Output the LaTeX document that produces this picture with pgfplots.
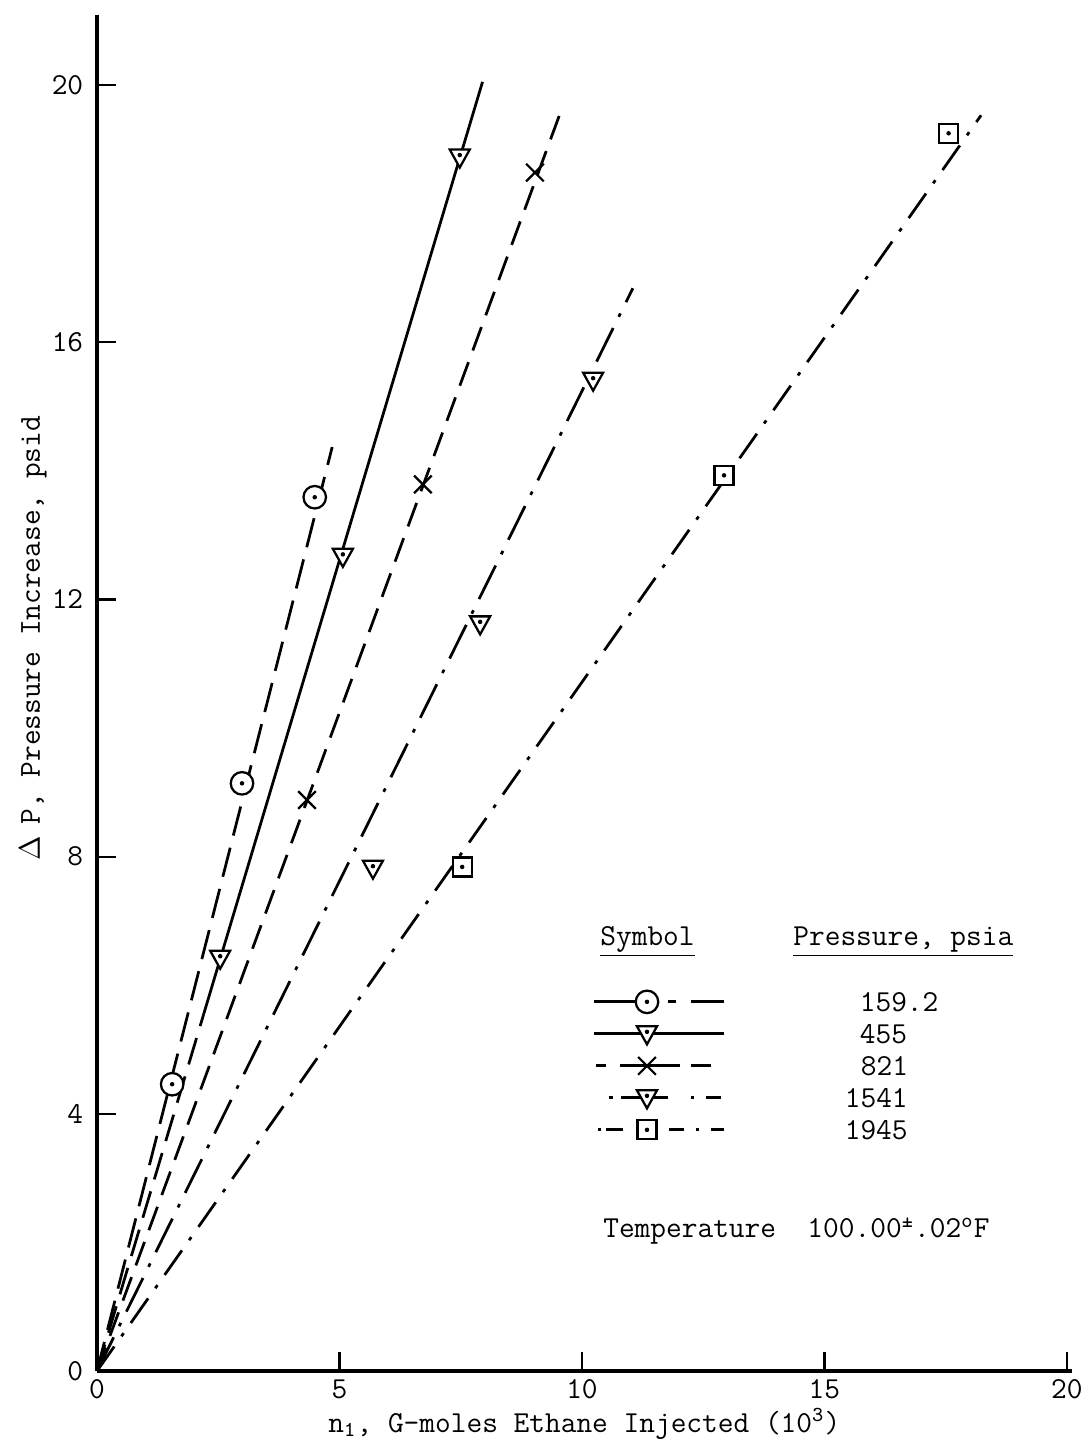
\documentclass[border=0pt]{standalone}
\usepackage{fontspec}
\usepackage{pgfplots}
\pgfplotsset{compat=1.18}
\renewcommand{\familydefault}{\ttdefault}

\pgfdeclareplotmark{odot}{%
  \pgfpathcircle{\pgfpointorigin}{\pgfplotmarksize}%
  \pgfusepathqfillstroke
  \begin{pgfscope}\pgfsetfillcolor{black}%
  \pgfpathcircle{\pgfpointorigin}{0.9pt}\pgfusepathqfill\end{pgfscope}}
\pgfdeclareplotmark{tdot}{%
  \pgfpathmoveto{\pgfqpoint{-\pgfplotmarksize}{0.75\pgfplotmarksize}}%
  \pgfpathlineto{\pgfqpoint{\pgfplotmarksize}{0.75\pgfplotmarksize}}%
  \pgfpathlineto{\pgfqpoint{0pt}{-1.05\pgfplotmarksize}}%
  \pgfpathclose
  \pgfusepathqfillstroke
  \begin{pgfscope}\pgfsetfillcolor{black}%
  \pgfpathcircle{\pgfqpoint{0pt}{0.2\pgfplotmarksize}}{0.9pt}\pgfusepathqfill\end{pgfscope}}
\pgfdeclareplotmark{sdot}{%
  \pgfpathrectangle{\pgfqpoint{-\pgfplotmarksize}{-\pgfplotmarksize}}{\pgfqpoint{2\pgfplotmarksize}{2\pgfplotmarksize}}%
  \pgfusepathqfillstroke
  \begin{pgfscope}\pgfsetfillcolor{black}%
  \pgfpathcircle{\pgfpointorigin}{0.9pt}\pgfusepathqfill\end{pgfscope}}

\pgfplotstableread{
x y
1.55 4.46
2.99 9.14
4.49 13.59
}\tA
\pgfplotstableread{
x y
2.54 6.42
5.07 12.67
7.48 18.88
}\tB
\pgfplotstableread{
x y
4.33 8.88
6.72 13.79
9.03 18.64
}\tC
\pgfplotstableread{
x y
5.69 7.82
7.90 11.62
10.23 15.41
}\tD
\pgfplotstableread{
x y
7.53 7.84
12.93 13.93
17.56 19.25
}\tE

\begin{document}
\begin{tikzpicture}[font=\fontsize{12.2}{14}\selectfont\ttfamily]
\begin{axis}[
  scale only axis, width=389.9pt, height=542.4pt,
  xmin=0, xmax=20.1, ymin=0, ymax=21.09,
  axis x line=bottom, axis y line=left,
  axis line style={line width=1.3pt, -},
  xtick={0,5,...,20}, ytick={0,4,...,20},
  tick align=inside, major tick length=7.5pt,
  tick style={line width=0.9pt, black},
  /pgf/number format/assume math mode=true,
  ticklabel style={font=\fontsize{12.2}{14}\selectfont\ttfamily},
  yticklabel style={xshift=-2pt},
  xlabel={n\textsubscript{1}, G-moles Ethane Injected (10\textsuperscript{3})},
  xlabel style={at={(axis description cs:0.5,0)}, anchor=base, yshift=-24.4pt, font=\fontsize{12.2}{14}\selectfont\ttfamily},
  ylabel={\makebox[6.4pt]{$\Delta$} P, Pressure Increase, psid},
  ylabel style={at={(axis description cs:0,0.542)}, anchor=center, rotate=0, yshift=25.6pt, font=\fontsize{12.2}{14}\selectfont\ttfamily},
  clip=false,
  legend image code/.code={%
    \draw[#1, mark=none] (0pt,0pt) -- (52pt,0pt);
    \draw[#1, solid] plot coordinates {(21pt,0pt)};},
  legend style={at={(axis cs:10.23,5.99)}, anchor=north west, draw=none, fill=none,
    inner sep=0pt, outer sep=0pt, row sep=0pt, column sep=0pt,
    nodes={inner sep=0pt, outer sep=0pt, text height=10.4pt, text depth=2.4pt, anchor=west},
    font=\fontsize{12.2}{14}\selectfont\ttfamily},
  legend cell align=left,
]
% lines
\addplot[forget plot, line width=1.1pt, dash pattern=on 12pt off 5pt] coordinates {(0,0) (4.85,14.37)};
\addplot[forget plot, line width=1.1pt, dash pattern=on 11pt off 5pt] coordinates {(0,0) (2.2,5.55)};
\addplot[forget plot, line width=1.1pt, solid] coordinates {(2.2,5.55) (7.95,20.05)};
\addplot[forget plot, line width=1.1pt, dash pattern=on 10pt off 5pt] coordinates {(0,0) (9.53,19.52)};
\addplot[forget plot, line width=1.1pt, dash pattern=on 15pt off 5pt on 1.5pt off 5pt] coordinates {(0,0) (11.05,16.84)};
\addplot[forget plot, line width=1.1pt, dash pattern=on 12pt off 5pt on 1.5pt off 5pt] coordinates {(0,0) (18.23,19.53)};
% marks
\addplot[forget plot, only marks, mark=odot, mark size=4.5pt, mark options={fill=white, line width=0.9pt}] table {\tA};
\addplot[forget plot, only marks, mark=tdot, mark size=4pt, mark options={fill=white, line width=0.9pt}] table {\tB};
\addplot[forget plot, only marks, mark=x, mark size=5pt, mark options={line width=0.9pt}] table {\tC};
\addplot[forget plot, only marks, mark=tdot, mark size=4pt, mark options={fill=white, line width=0.9pt}] table {\tD};
\addplot[forget plot, only marks, mark=sdot, mark size=3.8pt, mark options={fill=white, line width=0.9pt}] table {\tE};
% legend
\addlegendimage{line width=1.1pt, dash pattern=on 16.7pt off 12.9pt on 3.1pt off 6pt on 13.6pt off 10pt, mark=odot, mark size=4.5pt, mark options={fill=white, solid, line width=0.9pt}}
\addlegendentry{\hspace*{53.6pt}159.2}
\addlegendimage{line width=1.1pt, solid, mark=tdot, mark size=4pt, mark options={fill=white, solid, line width=0.9pt}}
\addlegendentry{\hspace*{53.6pt}455}
\addlegendimage{line width=1.1pt, dash pattern=on 0pt off 0.7pt on 4pt off 5.7pt on 24pt off 4.3pt on 8pt off 10pt, mark=x, mark size=5pt, mark options={solid, line width=0.9pt}}
\addlegendentry{\hspace*{54pt}821}
\addlegendimage{line width=1.1pt, dash pattern=on 0pt off 5.7pt on 1.6pt off 3.4pt on 18.6pt off 9.4pt on 1.3pt off 4.7pt on 6pt off 10pt, mark=tdot, mark size=4pt, mark options={fill=white, solid, line width=0.9pt}}
\addlegendentry{\hspace*{47.6pt}1541}
\addlegendimage{line width=1.1pt, dash pattern=on 0pt off 1.3pt on 1.4pt off 2pt on 6.6pt off 18.7pt on 6pt off 4.7pt on 1.3pt off 4.7pt on 8pt off 10pt, mark=sdot, mark size=3.8pt, mark options={fill=white, solid, line width=0.9pt}}
\addlegendentry{\hspace*{47.6pt}1945}
% text
\node[anchor=base west, inner sep=0pt] at (axis cs:10.37,6.625) {\underline{Symbol}};
\node[anchor=base west, inner sep=0pt] at (axis cs:14.35,6.625) {\underline{Pressure, psia}};
\node[anchor=base west, inner sep=0pt] at (axis cs:10.43,2.07) {Temperature\ \ 100.00\textsuperscript{±}.02\textsuperscript{o}F};
\end{axis}
\pgfresetboundingbox
\path[use as bounding box] (-38.8pt,-29.2pt) rectangle (396pt,548.4pt);
\end{tikzpicture}
\end{document}
